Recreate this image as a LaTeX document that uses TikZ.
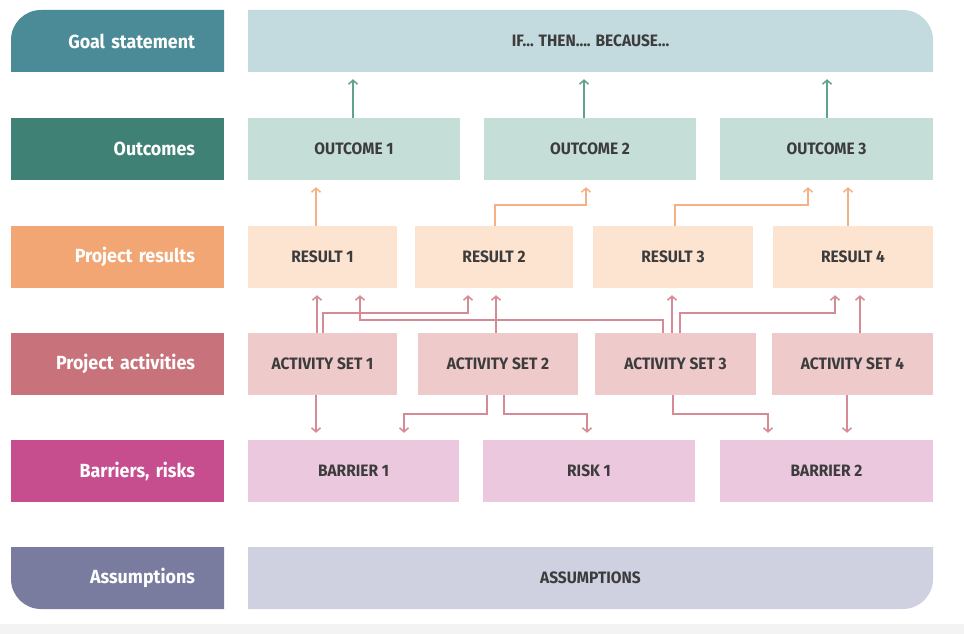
\documentclass[tikz,border=0pt]{standalone}
\usepackage{fontspec}
\setmainfont{Fira Sans}[FakeStretch=0.94]
\usetikzlibrary{arrows.meta}

% row colours: label (dark) and box (light)
\definecolor{goalD}{HTML}{4B8B97}
\definecolor{goalL}{HTML}{C3DADF}
\definecolor{outD}{HTML}{3F8275}
\definecolor{outL}{HTML}{C5DED7}
\definecolor{resD}{HTML}{F2A673}
\definecolor{resL}{HTML}{FDE4D1}
\definecolor{actD}{HTML}{C8737B}
\definecolor{actL}{HTML}{EFCACB}
\definecolor{barD}{HTML}{C64D8E}
\definecolor{barL}{HTML}{EBC8DD}
\definecolor{assD}{HTML}{797B9F}
\definecolor{assL}{HTML}{CFD1E1}
% connector colours
\definecolor{outA}{HTML}{62A08F}
\definecolor{resA}{HTML}{F5B086}
\definecolor{actA}{HTML}{D68A93}
\definecolor{txt}{HTML}{3C3C3C}
\definecolor{strip}{HTML}{F3F3F3}

\begin{document}
\begin{tikzpicture}[x=1pt,y=-1pt,
  lab/.style={text=white, font=\fontsize{19}{21}\selectfont\bfseries,
    text width=155pt, align=right, inner xsep=29pt, inner ysep=0pt,
    minimum height=62pt},
  box/.style={text=txt, font=\fontsize{16.5}{18}\selectfont\bfseries,
    minimum height=62pt, inner sep=0pt},
  arr/.style={line width=1.5pt, -{Straight Barb[length=4pt,width=9pt]},
    shorten >=7pt},
]
% page
\useasboundingbox (0,0) rectangle (964,634);
\fill[white] (0,0) rectangle (964,634);
\fill[strip] (0,624) rectangle (964,634);

% shapes with one rounded corner
\fill[goalD] (11,72) -- (11,40) .. controls (11,23.43) and (24.43,10) .. (41,10)
  -- (224,10) -- (224,72) -- cycle;
\fill[goalL] (248,72) -- (248,10) -- (903,10)
  .. controls (919.57,10) and (933,23.43) .. (933,40) -- (933,72) -- cycle;
\fill[assD] (11,547) -- (224,547) -- (224,609) -- (41,609)
  .. controls (24.43,609) and (11,595.57) .. (11,579) -- cycle;
\fill[assL] (248,547) -- (933,547) -- (933,579)
  .. controls (933,595.57) and (919.57,609) .. (903,609) -- (248,609) -- cycle;

% row labels
\node[lab] (Lgoal) at (117.5,41) {Goal statement};
\node[lab, fill=outD, minimum width=213pt] (Lout) at (117.5,149) {Outcomes};
\node[lab, fill=resD, minimum width=213pt] (Lres) at (117.5,257) {Project results};
\node[lab, fill=actD, minimum width=213pt] (Lact) at (117.5,364) {Project activities};
\node[lab, fill=barD, minimum width=213pt] (Lbar) at (117.5,471) {Barriers, risks};
\node[lab] (Lass) at (117.5,578) {Assumptions};

% goal
\node[box] (G) at (590.5,41) {IF... THEN.... BECAUSE...};

% outcomes
\node[box, fill=outL, minimum width=212pt] (O1) at (354,149) {OUTCOME 1};
\node[box, fill=outL, minimum width=212pt] (O2) at (590,149) {OUTCOME 2};
\node[box, fill=outL, minimum width=213pt] (O3) at (826.5,149) {OUTCOME 3};

% results
\node[box, fill=resL, minimum width=149pt] (R1) at (322.5,257) {RESULT 1};
\node[box, fill=resL, minimum width=158pt] (R2) at (494,257) {RESULT 2};
\node[box, fill=resL, minimum width=160pt] (R3) at (673,257) {RESULT 3};
\node[box, fill=resL, minimum width=160pt] (R4) at (853,257) {RESULT 4};

% activities
\node[box, fill=actL, minimum width=149pt] (A1) at (322.5,364) {ACTIVITY SET 1};
\node[box, fill=actL, minimum width=160pt] (A2) at (498,364) {ACTIVITY SET 2};
\node[box, fill=actL, minimum width=161pt] (A3) at (675.5,364) {ACTIVITY SET 3};
\node[box, fill=actL, minimum width=161pt] (A4) at (852.5,364) {ACTIVITY SET 4};

% barriers and risks
\node[box, fill=barL, minimum width=211pt] (B1) at (353.5,471) {BARRIER 1};
\node[box, fill=barL, minimum width=212pt] (K1) at (589,471) {RISK 1};
\node[box, fill=barL, minimum width=213pt] (B2) at (826.5,471) {BARRIER 2};

% assumptions
\node[box] (AS) at (590.5,578) {ASSUMPTIONS};

% outcomes -> goal
\draw[arr, outA] (O1.north -| 353,0) -- (G.south -| 353,0);
\draw[arr, outA] (O2.north -| 584,0) -- (G.south -| 584,0);
\draw[arr, outA] (O3.north -| 827,0) -- (G.south -| 827,0);

% results -> outcomes
\draw[arr, resA] (R1.north -| 316,0) -- (O1.south -| 316,0);
\draw[arr, resA] (R2.north -| 495,0) |- (586,205) -- (O2.south -| 586,0);
\draw[arr, resA] (R3.north -| 675,0) |- (808,205) -- (O3.south -| 808,0);
\draw[arr, resA] (R4.north -| 848,0) -- (O3.south -| 848,0);

% activities -> results
\draw[arr, actA] (A1.north -| 317,0) -- (R1.south -| 317,0);
\draw[arr, actA] (A1.north -| 323,0) |- (468,313) -- (R2.south -| 468,0);
\draw[arr, actA] (A3.north -| 663,0) |- (360,320) -- (R1.south -| 360,0);
\draw[arr, actA] (A2.north -| 496,0) -- (R2.south -| 496,0);
\draw[arr, actA] (A3.north -| 672,0) -- (R3.south -| 672,0);
\draw[arr, actA] (A3.north -| 680,0) |- (835,313) -- (R4.south -| 835,0);
\draw[arr, actA] (A4.north -| 860,0) -- (R4.south -| 860,0);

% activities -> barriers and risks
\draw[arr, actA] (A1.south -| 316,0) -- (B1.north -| 316,0);
\draw[arr, actA] (A2.south -| 487,0) |- (404,414) -- (B1.north -| 404,0);
\draw[arr, actA] (A2.south -| 504,0) |- (587,414) -- (K1.north -| 587,0);
\draw[arr, actA] (A3.south -| 673,0) |- (768,414) -- (B2.north -| 768,0);
\draw[arr, actA] (A4.south -| 847,0) -- (B2.north -| 847,0);
\end{tikzpicture}
\end{document}
